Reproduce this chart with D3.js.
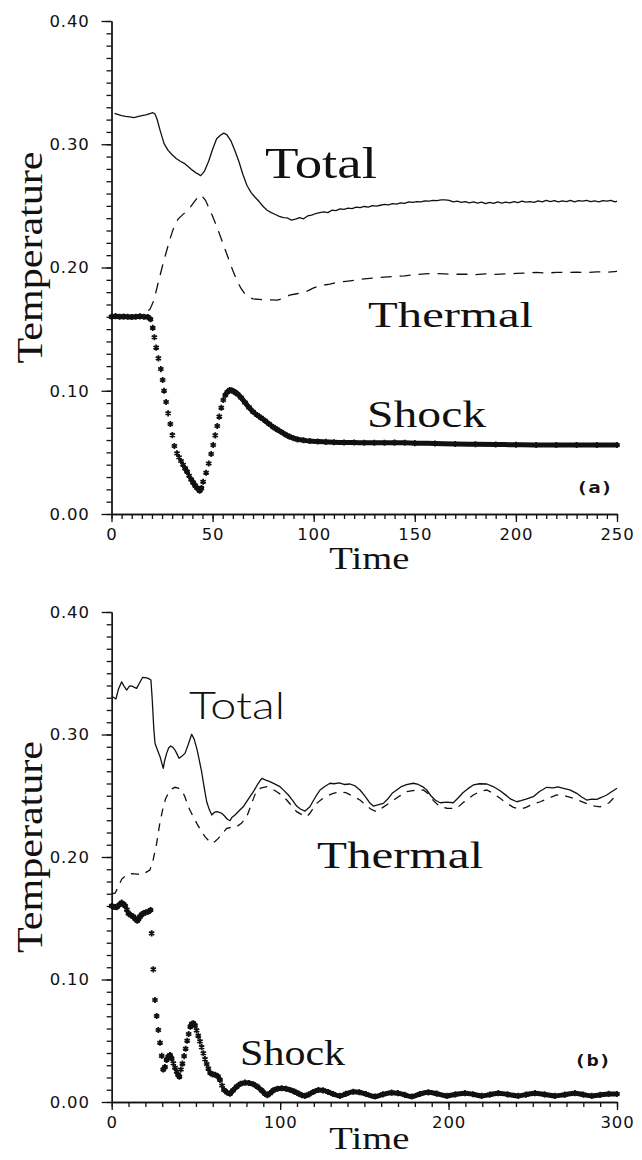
<!DOCTYPE html>
<html>
<head>
<meta charset="utf-8">
<script src="https://cdn.jsdelivr.net/npm/d3@7"></script>
<style>
  html, body { margin: 0; padding: 0; background: #fff; }
  svg { display: block; }
</style>
</head>
<body>
<svg id="chart" width="642" height="1160"></svg>
<script>
// ---------- Panel (a): time 0..250 ----------
const timeTicksA = [0, 50, 100, 150, 200, 250];
const tempTicks = [0, 0.1, 0.2, 0.3, 0.4];

// [time, temperature]
const totalA = [
  [1.5,0.325],[3,0.3242],[5,0.3232],[7,0.3226],[9,0.3222],[11,0.3216],[13,0.3224],[15,0.3232],
  [17,0.3238],[19,0.3248],[20.5,0.3256],[21.5,0.3245],[22.5,0.3205],[24,0.3115],[26,0.3005],
  [28,0.295],[30,0.2915],[32,0.2885],[34,0.2862],[36,0.2845],[38,0.2818],[40,0.279],[42,0.2765],
  [43,0.2758],[44,0.2745],[45,0.2762],[46,0.2782],[48,0.286],[50,0.296],[52,0.3045],[54,0.3075],
  [55.5,0.309],[57,0.3078],[59,0.303],[61,0.295],[63,0.286],[65,0.2755],[67,0.2665],[69,0.261],
  [71,0.257],[73,0.2535],[75,0.2495],[77,0.2465],[79,0.2445],[81,0.243],[83,0.2415],[85,0.2405],
  [87,0.2402],[89,0.2385],[91,0.2392],[93,0.2405],[95,0.2395],[97,0.2418],[99,0.2425],[101,0.2438],
  [103,0.2445],[105,0.2452],[107,0.2445],[109,0.2465],[111,0.2462],[113,0.2475],[115,0.2472],
  [117,0.2482],[119,0.2478],[121,0.249],[123,0.2485],[125,0.2495],[127,0.249],[129,0.2502],
  [131,0.2498],[133,0.2505],[135,0.2512],[137,0.2508],[139,0.2518],[141,0.2515],[143,0.2525],
  [145,0.252],[147,0.2532],[149,0.2528],[151,0.2535],[153,0.2532],[155,0.254],[157,0.2538],
  [159,0.2545],[161,0.2542],[163,0.2548],[165,0.2548],[167,0.2545],[169,0.2532],[171,0.2538],
  [173,0.2528],[175,0.2535],[177,0.2525],[179,0.2532],[181,0.2522],[183,0.253],[185,0.2518],
  [187,0.2528],[189,0.252],[191,0.2532],[193,0.2522],[195,0.253],[197,0.2525],[199,0.2535],
  [201,0.2526],[203,0.2538],[205,0.253],[207,0.2535],[209,0.2528],[211,0.254],[213,0.2532],
  [215,0.2545],[217,0.2535],[219,0.2542],[221,0.2532],[223,0.254],[225,0.2535],[227,0.2545],
  [229,0.2532],[231,0.2542],[233,0.2538],[235,0.2545],[237,0.2535],[239,0.254],[241,0.2532],
  [243,0.2542],[245,0.2538],[247,0.2545],[249,0.2532],[250,0.2538]
];

const thermalA = [
  [0,0.1615],[4,0.1612],[8,0.1615],[12,0.1612],[16,0.1625],[17.5,0.1645],[19,0.166],[21,0.1736],
  [23,0.187],[25,0.2],[27,0.212],[29,0.2235],[31,0.2335],[33,0.2395],[35,0.2425],[37,0.2455],
  [39,0.249],[41,0.2535],[43,0.2575],[44,0.259],[45,0.2575],[46.5,0.2545],[48,0.249],[50,0.2415],
  [52,0.2335],[54,0.2245],[56,0.2155],[58,0.2065],[60,0.1975],[62,0.1895],[64,0.1832],[66,0.1785],
  [68,0.1758],[70,0.1745],[73,0.1742],[76,0.1735],[79,0.1738],[82,0.1735],[85,0.175],[88,0.1775],
  [91,0.1785],[94,0.1795],[97,0.181],[100,0.1835],[104,0.1855],[108,0.1865],[112,0.188],
  [116,0.1888],[120,0.1895],[125,0.1908],[130,0.1915],[135,0.1922],[140,0.1928],[145,0.1932],
  [150,0.1942],[155,0.1948],[160,0.1952],[165,0.1948],[170,0.1945],[175,0.1946],[180,0.1942],
  [185,0.1948],[190,0.1944],[195,0.1948],[200,0.1952],[205,0.1955],[210,0.196],[215,0.1955],
  [220,0.196],[225,0.196],[230,0.1962],[235,0.1958],[240,0.1965],[245,0.1962],[250,0.1968]
];

const shockA = [
  [0,0.160],[2,0.1605],[4,0.160],[6,0.1602],[8,0.160],[10,0.1598],[12,0.160],[14,0.1603],
  [16,0.160],[18,0.1598],[19.3,0.158],
  [20.4,0.151],[21.2,0.1434],[22.1,0.135],[23.2,0.1263],[24.4,0.1176],[25.3,0.1087],[26,0.100],
  [27,0.0909],[28,0.0817],[29.1,0.073],[30.1,0.064],[31.1,0.0552],[32.4,0.0492],
  [33.4,0.046],[34.4,0.043],[35.4,0.040],[36.4,0.037],[37.4,0.0343],[38.4,0.031],[39.4,0.028],
  [40.4,0.0255],[41.4,0.023],[42.4,0.021],[43.6,0.019],[44.5,0.021],[45.3,0.0262],
  [46.8,0.0335],[48.1,0.041],[49.3,0.0487],[50.3,0.056],[51.3,0.0638],[52.3,0.0714],[53.3,0.079],
  [54.3,0.0862],[55.3,0.0925],[56.3,0.0965],[57.3,0.099],[58.4,0.1005],[59.4,0.1003],
  [60.4,0.0995],[61.4,0.0985],[62.4,0.0972],[64,0.0945],[66,0.0905],[68,0.0865],[70,0.083],
  [72,0.0803],[74,0.078],[76,0.0757],[78,0.073],[80,0.0705],[82,0.0685],[84,0.0665],[86,0.0645],
  [88,0.0628],[90,0.0615],[92,0.0605],[95,0.0598],[98,0.0592],[102,0.0588],[106,0.0585],
  [110,0.0582],[115,0.058],[120,0.058],[125,0.0578],[130,0.0578],[135,0.0578],[140,0.0579],
  [145,0.0578],[150,0.0575],[160,0.0572],[170,0.0568],[180,0.0566],[190,0.0564],[200,0.0562],
  [210,0.056],[220,0.056],[230,0.056],[240,0.056],[250,0.056]
];

// ---------- Panel (b): time 0..300 ----------
const timeTicksB = [0, 100, 200, 300];

const totalB = [
  [0,0.331],[1,0.3304],[2.5,0.329],[4,0.337],[5.9,0.343],[7.5,0.339],[8.9,0.3363],[10.5,0.3395],
  [11.9,0.3396],[13.5,0.3385],[14.8,0.3377],[16.5,0.342],[18.4,0.3467],[20,0.3465],[21.7,0.3458],
  [23.3,0.3445],[24,0.33],[25,0.305],[25.7,0.2928],[27,0.288],[28.7,0.2819],[30.6,0.2724],
  [31.5,0.279],[32.6,0.2846],[33.8,0.289],[35,0.2906],[36.3,0.2895],[37.6,0.2873],[38.8,0.284],
  [40,0.2806],[41.8,0.2825],[43.5,0.2846],[45.5,0.292],[47.5,0.3002],[49,0.296],[50.5,0.2887],
  [52,0.279],[53.4,0.2696],[55,0.256],[56.4,0.2451],[58,0.2385],[59.4,0.2343],[61,0.2365],
  [62.3,0.237],[64,0.2365],[65.3,0.2357],[67,0.2335],[68.5,0.231],[70.2,0.2296],[71.5,0.2325],
  [73.2,0.2343],[75.5,0.2375],[78.1,0.241],[81,0.247],[84.1,0.2533],[86.5,0.259],[89.1,0.2642],
  [91.5,0.2628],[93.9,0.2615],[97,0.2595],[99.9,0.2574],[102.5,0.254],[104.9,0.2506],
  [107.5,0.246],[109.8,0.2416],[112,0.2392],[114.8,0.2375],[117.7,0.241],[119.5,0.2455],
  [121.7,0.2506],[123.7,0.2547],[126.5,0.2575],[129.6,0.2602],[132,0.2598],[135,0.2605],
  [138,0.2592],[141.5,0.2596],[144.5,0.258],[147.4,0.2547],[150.5,0.2495],[153,0.2445],
  [155.3,0.2416],[158,0.2425],[161.3,0.2438],[164,0.2475],[166.5,0.252],[169.2,0.2547],
  [172,0.2575],[175,0.259],[179.1,0.2602],[182,0.2592],[184.5,0.2575],[187,0.2547],[189.5,0.25],
  [192,0.2465],[195,0.2443],[199,0.2448],[202.8,0.2443],[205.5,0.248],[208.5,0.2525],
  [211.5,0.2558],[214.7,0.2588],[218.5,0.2598],[222.7,0.2596],[226.5,0.2575],[230.6,0.2541],
  [234,0.2505],[237,0.2472],[240.5,0.2451],[243,0.246],[246,0.2472],[250.3,0.2492],[254,0.2535],
  [258.3,0.2569],[262,0.2565],[265,0.2572],[268.2,0.2561],[272,0.2548],[276.1,0.252],[279,0.249],
  [282,0.2465],[285,0.2472],[288,0.2471],[291,0.2488],[293.9,0.2506],[297,0.2535],[300,0.2561]
];

const thermalB = [
  [0,0.170],[2,0.1704],[4,0.176],[6,0.182],[9,0.1855],[12,0.1865],[15,0.186],[18,0.1858],
  [20,0.1872],[22.7,0.1894],[24.5,0.197],[26.7,0.2112],[28.5,0.227],[30.6,0.241],[32,0.2475],
  [33.6,0.252],[35.5,0.2555],[37.6,0.2569],[39.5,0.2562],[41.6,0.2547],[43.5,0.249],[45.5,0.241],
  [48,0.234],[50.5,0.2275],[53,0.2215],[55.4,0.2166],[57.5,0.2135],[59.4,0.2112],[61.5,0.2128],
  [63.3,0.2152],[66,0.2195],[68.3,0.2234],[71,0.2242],[74.2,0.2248],[77,0.2275],[80.2,0.2329],
  [83,0.2435],[86.1,0.2547],[89,0.2565],[92,0.2574],[95,0.2558],[98,0.2533],[101,0.2505],
  [103.9,0.2465],[107,0.2415],[109.8,0.237],[113,0.2345],[115.8,0.2329],[117.7,0.2357],
  [119.5,0.2395],[121.7,0.2438],[124.5,0.247],[127.6,0.2498],[131.5,0.252],[135.5,0.2533],
  [139,0.2525],[143,0.2498],[147.4,0.2465],[151,0.2425],[154,0.239],[157.3,0.237],[161,0.2405],
  [165.2,0.2443],[170,0.249],[175.1,0.2533],[180,0.2545],[185,0.2547],[188,0.2515],[191,0.246],
  [194.9,0.241],[199,0.2398],[204.8,0.2397],[209,0.2448],[214.7,0.2506],[218.5,0.2535],
  [222.7,0.2547],[226.5,0.252],[230.6,0.2479],[235,0.2435],[238.5,0.2405],[242.5,0.2389],
  [246,0.2405],[250,0.2432],[254.4,0.2451],[259,0.2478],[264.2,0.2506],[269,0.25],[274.1,0.2479],
  [279,0.2452],[284,0.2424],[287,0.2415],[290,0.241],[293,0.2425],[295.5,0.2445],[297.8,0.2479],
  [300,0.2506]
];

const shockB = [
  [0,0.160],[1,0.1594],[2,0.1592],[3,0.159],[4.5,0.161],[5.9,0.1627],[7,0.1615],[8,0.160],
  [9,0.157],[9.9,0.154],[11.3,0.1525],[12.8,0.1513],[14,0.1495],[15.2,0.148],[16,0.1495],
  [16.8,0.1513],[17.8,0.153],[18.8,0.154],[20.2,0.1548],[21.7,0.1553],[23.1,0.1567],
  [23.7,0.1377],[24.7,0.1083],[25.7,0.0833],[26.7,0.0702],[27.7,0.0588],[28.7,0.0484],
  [29.7,0.0376],[30.6,0.0265],[31.6,0.0285],[32.6,0.0343],[33.6,0.037],[34.6,0.0384],
  [35.6,0.0355],[36.6,0.0316],[37.6,0.028],[38.6,0.0247],[39.4,0.0222],[40.2,0.0207],
  [41.1,0.0265],[42,0.0313],[43,0.0375],[43.9,0.0435],[44.8,0.05],[45.7,0.0555],[46.7,0.0615],
  [47.6,0.0638],[48.5,0.0642],[49.4,0.0625],[50.4,0.0585],[51.4,0.054],[52.4,0.0495],
  [53.4,0.0448],[54.4,0.0398],[55.4,0.035],[56.4,0.031],[57.4,0.0272],[58.5,0.0237],[60,0.0225],
  [61.5,0.0222],[63,0.021],[64.3,0.018],[65.5,0.0135],[66.7,0.0098],[68.5,0.0078],[70.2,0.0068],
  [72,0.0095],[74.2,0.0125],[76.5,0.0148],[79.1,0.0158],[81.5,0.0155],[84.1,0.0145],[86.5,0.0125],
  [89,0.0095],[91,0.0068],[92.4,0.0055],[94,0.0072],[96,0.0095],[98.5,0.0108],[100.9,0.0112],
  [103.5,0.0108],[106,0.0098],[108.5,0.0085],[111,0.0068],[113,0.0055],[114.8,0.005],[117,0.0062],
  [119.7,0.0082],[122.7,0.0098],[125.5,0.0095],[128.5,0.0082],[131.5,0.0065],[135.5,0.005],
  [139,0.0066],[143.4,0.0084],[147,0.008],[151,0.0065],[156.3,0.0045],[161,0.0062],[166.2,0.0076],
  [170,0.0072],[174,0.0058],[178.1,0.0045],[183,0.0065],[188,0.0079],[193,0.0068],[198.9,0.005],
  [204,0.0062],[209.8,0.0072],[214.5,0.0063],[219.7,0.005],[224.5,0.006],[229.5,0.0072],
  [235,0.0062],[241.4,0.005],[246,0.006],[251.3,0.0072],[257,0.0062],[263.2,0.005],[269,0.006],
  [275,0.0072],[280,0.006],[285,0.005],[290,0.0058],[295,0.0066],[300,0.0065]
];

// Curve annotations, anchored in data units (time, temperature)
const serif = "'Liberation Serif', 'Times New Roman', serif";
const labelsA = [
  { text: "Total",   t: 75.9,  v: 0.2726, size: 44, len: 112, family: serif },
  { text: "Thermal", t: 126.9, v: 0.1517, size: 36, len: 165, family: serif },
  { text: "Shock",   t: 126.4, v: 0.0706, size: 38, len: 119, family: serif }
];
const labelsB = [
  { text: "Total",   t: 45.9,  v: 0.3127, size: 38, len: 96,  family: "Lato, 'Open Sans', sans-serif", weight: 300 },
  { text: "Thermal", t: 121.9, v: 0.191,  size: 38, len: 166, family: serif },
  { text: "Shock",   t: 76.2,  v: 0.0302, size: 35, len: 105, family: serif }
];

const ink = "#111";
const svg = d3.select("#chart");

function drawPanel(p) {
  const x = d3.scaleLinear().domain([0, p.tMax]).range([p.left, p.right]);
  const y = d3.scaleLinear().domain([0, 0.4]).range([p.bottom, p.top]);
  const g = svg.append("g");

  // y axis: minor ticks every 0.01, labelled ticks every 0.1
  g.append("g").attr("transform", `translate(${p.left},0)`)
    .call(d3.axisLeft(y).tickValues(d3.range(0, 41).map(i => i / 100))
      .tickSize(5).tickSizeOuter(0).tickFormat(""));
  g.append("g").attr("transform", `translate(${p.left},0)`)
    .call(d3.axisLeft(y).tickValues(tempTicks).tickSize(10).tickSizeOuter(0)
      .tickPadding(12).tickFormat(d3.format(".2f")));

  // x axis
  g.append("g").attr("transform", `translate(0,${p.bottom})`)
    .call(d3.axisBottom(x).tickValues(d3.range(0, p.tMax + 0.1, p.minor))
      .tickSize(5).tickSizeOuter(0).tickFormat(""));
  g.append("g").attr("transform", `translate(0,${p.bottom})`)
    .call(d3.axisBottom(x).tickValues(p.xTicks).tickSize(8).tickSizeOuter(0)
      .tickPadding(6.5).tickFormat(d3.format("d")));

  g.selectAll(".domain, .tick line").attr("stroke", ink).attr("stroke-width", 1.3);
  g.selectAll(".tick text")
    .attr("fill", "#111")
    .style("font-family", "'DejaVu Sans', sans-serif")
    .style("font-size", "16.5px")
    .style("letter-spacing", "0.8px");

  // axis titles
  g.append("text")
    .attr("transform", `translate(42,${(p.top + p.bottom) / 2 - 10}) rotate(-90)`)
    .attr("text-anchor", "middle")
    .attr("textLength", 212).attr("lengthAdjust", "spacingAndGlyphs")
    .style("font-family", serif).style("font-size", "36px")
    .attr("fill", ink).text("Temperature");
  g.append("text")
    .attr("x", (p.left + p.right) / 2 + 5).attr("y", p.bottom + p.titleGap)
    .attr("text-anchor", "middle")
    .attr("textLength", 80).attr("lengthAdjust", "spacingAndGlyphs")
    .style("font-family", serif).style("font-size", "32px")
    .attr("fill", ink).text("Time");

  const line = d3.line().x(d => x(d[0])).y(d => y(d[1]));

  // total: solid
  g.append("path").attr("d", line(p.total))
    .attr("fill", "none").attr("stroke", ink).attr("stroke-width", 1.3)
    .attr("stroke-linejoin", "round");
  // thermal: dashed
  g.append("path").attr("d", line(p.thermal))
    .attr("fill", "none").attr("stroke", ink).attr("stroke-width", 1.3)
    .attr("stroke-dasharray", p.dash);

  // shock: asterisk markers; where successive markers overlap they merge into a heavy band
  const runs = [];
  let run = [p.shock[0]];
  for (let i = 1; i < p.shock.length; i++) {
    const a = p.shock[i - 1], b = p.shock[i];
    const rise = Math.abs(y(b[1]) - y(a[1])) / (b[0] - a[0]);
    if (rise < 3.6) run.push(b); else { runs.push(run); run = [b]; }
  }
  runs.push(run);
  const smooth = d3.line().x(d => x(d[0])).y(d => y(d[1])).curve(d3.curveMonotoneX);
  runs.filter(r => r.length > 1).forEach(r => {
    g.append("path").attr("d", smooth(r))
      .attr("fill", "none").attr("stroke", ink).attr("stroke-width", 5)
      .attr("stroke-linecap", "round").attr("stroke-linejoin", "round");
  });
  g.selectAll(null).data(p.shock).join("path")
    .attr("transform", d => `translate(${x(d[0])},${y(d[1])})`)
    .attr("d", d3.symbol(d3.symbolAsterisk, 26))
    .attr("fill", "none").attr("stroke", ink).attr("stroke-width", 1.8);

  // curve labels
  p.labels.forEach(l => {
    g.append("text").attr("x", x(l.t)).attr("y", y(l.v))
      .attr("textLength", l.len).attr("lengthAdjust", "spacingAndGlyphs")
      .style("font-family", l.family).style("font-size", l.size + "px")
      .style("font-weight", l.weight || 400)
      .attr("fill", ink).text(l.text);
  });

  // panel tag
  g.append("text").attr("x", x(p.tag.t)).attr("y", y(p.tag.v))
    .attr("textLength", 37).attr("lengthAdjust", "spacingAndGlyphs")
    .style("font-family", "'DejaVu Sans Mono', monospace").style("font-size", "15px")
    .style("font-weight", 700).attr("fill", ink).text(p.tag.text);
}

drawPanel({
  tMax: 250, left: 111.5, right: 617, top: 21, bottom: 514, titleGap: 55,
  xTicks: timeTicksA, minor: 5, dash: "11,8",
  total: totalA, thermal: thermalA, shock: shockA, labels: labelsA,
  tag: { text: "(a)", t: 229.7, v: 0.017 }
});
drawPanel({
  tMax: 300, left: 111.7, right: 617, top: 612, bottom: 1102, titleGap: 47,
  xTicks: timeTicksB, minor: 10, dash: "8,7",
  total: totalB, thermal: thermalB, shock: shockB, labels: labelsB,
  tag: { text: "(b)", t: 274.5, v: 0.0294 }
});
</script>
</body>
</html>
